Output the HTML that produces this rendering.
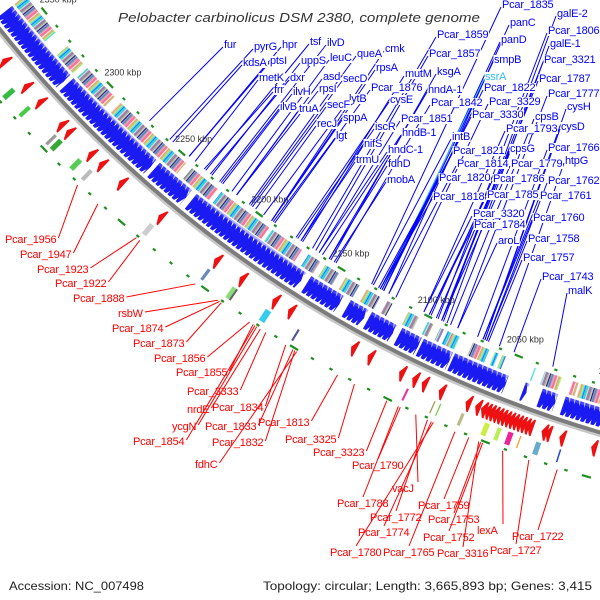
<!DOCTYPE html>
<html><head><meta charset="utf-8"><style>
html,body{margin:0;padding:0;background:#fff;}
svg{display:block;}
text{font-family:"Liberation Sans","DejaVu Sans",sans-serif;}
</style></head><body>
<svg id="map" width="600" height="600" viewBox="0 0 600 600" xmlns="http://www.w3.org/2000/svg">
<rect width="600" height="600" fill="#fff"/>
<g id="lines"></g>
<g id="tracks"></g>
<g id="labels"></g>
<text x="118" y="22" font-size="13" font-style="italic" fill="#333" textLength="362" lengthAdjust="spacingAndGlyphs">Pelobacter carbinolicus DSM 2380, complete genome</text>
<text x="9" y="590" font-size="12" fill="#222" textLength="135" lengthAdjust="spacingAndGlyphs">Accession: NC_007498</text>
<text x="263" y="590" font-size="12" fill="#222" textLength="329" lengthAdjust="spacingAndGlyphs">Topology: circular; Length: 3,665,893 bp; Genes: 3,415</text>
</svg>
<script>
// ---- data (kbp) ----
const tickMajor = [2000, 2050, 2100, 2150, 2200, 2250, 2300, 2350];
const blueSegs = [[2362,2317],[2315,2257],[2255,2234],[2231,2164],[2161,2142],[2138,2128],[2126,2112],[2109,2098],[2097,2081],[2080,2051],[2042,2040],[2033,2025],[2021,1995]];
const redArrows = [2342,2326,2316,2301,2296,2281,2274,2261,2236,2202,2187,2168,2159,2124,2115,2098,2091,2086,2077,2063,2058,2055,2053,2051,2049,2047,2045,2043,2041,2039,2037,2035,2033,2031,2024,2022,2015,1999];
const outerBlockStart = [2329,2318,2300,2296,2283,2276,2237,2203,2188,2187,2168,2152,2093,2079,2076,2064,2051,2045,2039,2035,2025,2015];
const outerBlockLen = [2.5,2,1.5,2.5,2.5,2,2.5,1.5,2,1,3,1,1,0.6,0.6,1.5,2.5,2,2.5,0.6,2.5,0.7];
const outerBlockColor = ['#33bb44','#44cc44','#999999','#33aa33','#55cc55','#bbbbbb','#cccccc','#6688bb','#88dd77','#666666','#33ccee','#555599','#ee3399','#999944','#77cc44','#bbbb88','#ccee44','#bbee55','#ee2299','#ff9933','#66aacc','#2244dd'];
const innerClusters = [[2362,2338],[2329,2317],[2314,2294],[2290,2245],[2241,2224],[2222,2192],[2190,2172],[2168,2161],[2158,2150],[2146,2138],[2134,2126],[2122,2119],[2110,2104],[2099,2096],[2092,2090],[2088,2085],[2085,2081],[2074,2065],[2062,2060],[2058,2056],[2040.5,2039.8],[2035,2026],[2020,2017],[2016,2004]];
const blueNames = ['fur','pyrG','hpr','tsf','ilvD','kdsA','ptsI','uppS','leuC','queA','cmk','metK','dxr','asd','secD','rpsA','frr','ilvH','rpsI','lytB','Pcar_1876','ilvB','truA','secF','cysE','recJ','sppA','iscR','lgt','nifS','hndC-1','trmU','fdhD','mobA','Pcar_1835','panC','galE-2','Pcar_1859','panD','Pcar_1806','galE-1','Pcar_1857','smpB','Pcar_3321','mutM','ksgA','ssrA','Pcar_1787','hndA-1','Pcar_1822','Pcar_1777','Pcar_1842','Pcar_3329','cysH','Pcar_3330','cpsB','Pcar_1851','cysD','Pcar_1793','hndB-1','intB','Pcar_1766','Pcar_1821','cpsG','Pcar_1779','htpG','Pcar_1814','Pcar_1820','Pcar_1786','Pcar_1762','Pcar_1818','Pcar_1785','Pcar_1761','Pcar_3320','Pcar_1760','Pcar_1784','aroL','Pcar_1758','Pcar_1757','Pcar_1743','malK'];
const blueKbp = [2273,2259,2246,2235,2226,2257,2246,2231,2218,2207,2193,2242,2232,2215,2206,2193,2236,2224,2215,2198,2191,2225,2215,2205,2178,2203,2193,2177,2192,2174,2164,2175,2158,2155,2133,2123,2092,2168,2126,2095,2090,2166,2126,2093,2175,2157,2127,2093,2158,2126,2084,2154,2119,2069,2127,2088,2164,2069,2103,2162,2132,2073,2128,2096,2093,2061,2123,2129,2099,2068,2128,2100,2070,2103,2070,2100,2084,2068,2067,2053,2032];
const blueX = [224,254,282,310,327,243,270,301,330,357,385,259,290,323,343,376,274,293,319,349,371,280,299,327,390,317,343,375,336,364,388,356,388,387,502,510,557,437,501,548,550,429,494,544,405,437,485,539,428,484,548,431,489,567,472,535,401,561,506,402,452,548,453,510,511,565,457,439,493,548,433,487,540,473,533,474,498,528,523,542,568];
const blueY = [48,50,48,45,46,66,64,64,61,57,52,81,81,80,82,71,93,95,92,102,91,110,112,108,103,127,121,130,139,147,153,163,167,183,8,26,17,38,43,34,47,57,63,63,77,75,80,82,93,91,97,106,105,110,118,120,122,130,132,136,140,151,154,152,167,164,167,181,182,184,200,198,199,217,221,228,244,242,261,280,294];
const redNames = ['Pcar_1956','Pcar_1947','Pcar_1923','Pcar_1922','Pcar_1888','rsbW','Pcar_1874','Pcar_1873','Pcar_1856','Pcar_1855','Pcar_3333','nrdE','Pcar_1834','ycgN','Pcar_1833','Pcar_1813','Pcar_1854','Pcar_1832','fdhC','Pcar_3325','Pcar_3323','Pcar_1790','vacJ','Pcar_1788','Pcar_1759','Pcar_1772','Pcar_1753','Pcar_1774','lexA','Pcar_1752','Pcar_1722','Pcar_1780','Pcar_1765','Pcar_3316','Pcar_1727'];
const redKbp = [2277,2264,2240,2238,2205,2192,2191,2190,2174,2172,2165,2168,2154,2170,2150,2126,2171,2149,2148,2117,2100,2093,2085,2094,2058,2079,2052,2077,2041,2051,2014,2076,2065,2053,2028];
const redX = [5,20,37,55,73,118,112,133,154,176,187,187,212,172,205,258,133,212,195,285,313,352,392,337,418,370,428,358,477,423,512,330,383,437,490];
const redY = [243,258,273,287,302,317,332,347,362,376,395,413,411,430,430,426,445,446,468,443,456,469,492,507,509,521,523,536,534,541,540,556,556,557,554];
const redMode = ['r','r','r','r','r','r','r','r','r','r','r','r','r','r','r','r','r','r','r','r','r','m','m','m','m','m','m','m','m','m','m','m','m','m','m'];

// ---- geometry ----
const CX = 938, CY = -719, R = 1200, DEG = 0.0982;
function P(r, k) { const a = (111.3 + (k - 2050) * DEG) * Math.PI / 180; return [CX + r * Math.cos(a), CY + r * Math.sin(a)]; }
const NS = 'http://www.w3.org/2000/svg';
function mk(tag, attrs, parent) { const e = document.createElementNS(NS, tag); for (const k in attrs) e.setAttribute(k, attrs[k]); parent.appendChild(e); return e; }
function pts(a) { return a.map(p => p[0].toFixed(1) + ',' + p[1].toFixed(1)).join(' '); }
const gL = document.getElementById('lines'), gT = document.getElementById('tracks'), gLab = document.getElementById('labels');
const palette = ['#40e0f0','#f0a0b0','#7080c0','#b0f060','#a0a0b0','#e060a0','#c0c090','#5080b0','#a0f0f0','#f0a060','#9090d0','#60c0a0','#e8e8e8','#202080','#00e8ff','#f08080','#c8c8c8','#4060ff','#ff60b0','#b0b070'];

// backbone
let c1 = mk('circle', {cx: CX, cy: CY, r: R + 3, fill: 'none', stroke: '#c8c8c8', 'stroke-width': 3}, gT);


let c2 = mk('circle', {cx: CX, cy: CY, r: R, fill: 'none', stroke: '#7c7c7c', 'stroke-width': 4}, gT);



// blue arrows (inner strand)
blueSegs.forEach(seg => {
  const s = seg[0], e = seg[1], L = 3.6;
  for (let k = s; k > e; k -= 2.6) {
    const k2 = Math.max(k - L, e);
    const el = mk('polygon', {points: pts([P(R-24,k), P(R-5,k), P(R-5,k-(k-k2)*0.45), P(R-14.5,k2), P(R-24,k-(k-k2)*0.45)]), fill: '#1a1af2'}, gT);
    
    
  }
});
blueSegs.forEach(seg => {
  const el = mk('polygon', {points: pts([P(R-24,seg[0]), P(R-21,seg[0]), P(R-21,seg[1]), P(R-24,seg[1])]), fill: '#6a6aff', opacity: 0.5}, gT);
  
  
});

// red arrows (outer strand)
redArrows.forEach(k => {
  const el = mk('polygon', {points: pts([P(R+8,k), P(R+25,k), P(R+25,k+0.8), P(R+16.5,k+2.8), P(R+8,k+0.8)]), fill: '#ee1111'}, gT);
  
  
});

// outer blocks
outerBlockStart.forEach((k, i) => {
  const k2 = k + outerBlockLen[i];
  const el = mk('polygon', {points: pts([P(R+28,k), P(R+41,k), P(R+41,k2), P(R+28,k2)]), fill: outerBlockColor[i]}, gT);
  
  
});

// inner colored clusters
innerClusters.forEach((c, ci) => {
  let j = ci * 3;
  for (let k = c[1]; k < c[0]; k += 0.55) {
    const k2 = Math.min(k + 0.6, c[0]);
    const el = mk('polygon', {points: pts([P(R-41,k), P(R-27,k), P(R-27,k2), P(R-41,k2)]), fill: palette[j % palette.length]}, gT);
    
    
    j += 3;
  }
});

// tick dots (inner and outer rulers)
for (let k = 1990; k <= 2370; k += 10) {
  const major = (k % 50 === 0);
  const h = major ? 2.2 : 0.8;
  [R - 46, R + 46].forEach(r => {
    const a = P(r, k + h), b = P(r, k - h);
    const el = mk('line', {x1: a[0], y1: a[1], x2: b[0], y2: b[1], stroke: '#1f8f1f', 'stroke-width': 2.2}, gT);
    
    
  });
}
tickMajor.forEach(k => {
  const p = P(R - 64, k);
  const t = mk('text', {x: p[0], y: p[1] + 3, 'font-size': 9, fill: '#333', 'text-anchor': 'middle'}, gT);
  t.textContent = k + ' kbp';
  
  
});

// blue labels + lines
blueNames.forEach((n, i) => {
  const end = P(R - 48, blueKbp[i]);
  const ln = mk('line', {x1: blueX[i] - 1, y1: blueY[i] - 1, x2: end[0], y2: end[1], stroke: n === 'ssrA' ? '#33bbee' : '#0000ff', 'stroke-width': 1}, gL);
  
  
  const t = mk('text', {x: blueX[i], y: blueY[i], 'font-size': 11, 'letter-spacing': '-0.2', fill: n === 'ssrA' ? '#33bbee' : '#0000ff'}, gLab);
  t.textContent = n;
  
  
  const bb = t.getBBox();
  const bg = mk('rect', {x: bb.x - 0.5, y: bb.y + 1, width: bb.width + 1, height: bb.height - 2, fill: '#fff'}, gLab);
  gLab.insertBefore(bg, t);
});

// red labels + lines
redNames.forEach((n, i) => {
  const t = mk('text', {x: redX[i], y: redY[i], 'font-size': 11, 'letter-spacing': '-0.2', fill: '#ff0000'}, gLab);
  t.textContent = n;
  
  
  const w = t.getComputedTextLength();
  const sx = redMode[i] === 'r' ? redX[i] + w + 2 : redX[i] + 26;
  const sy = redMode[i] === 'r' ? redY[i] - 5 : redY[i] - 10;
  const end = P(R + 48, redKbp[i]);
  const ln = mk('line', {x1: sx, y1: sy, x2: end[0], y2: end[1], stroke: '#ff0000', 'stroke-width': 1}, gL);
  
  
});
</script>
</body></html>
